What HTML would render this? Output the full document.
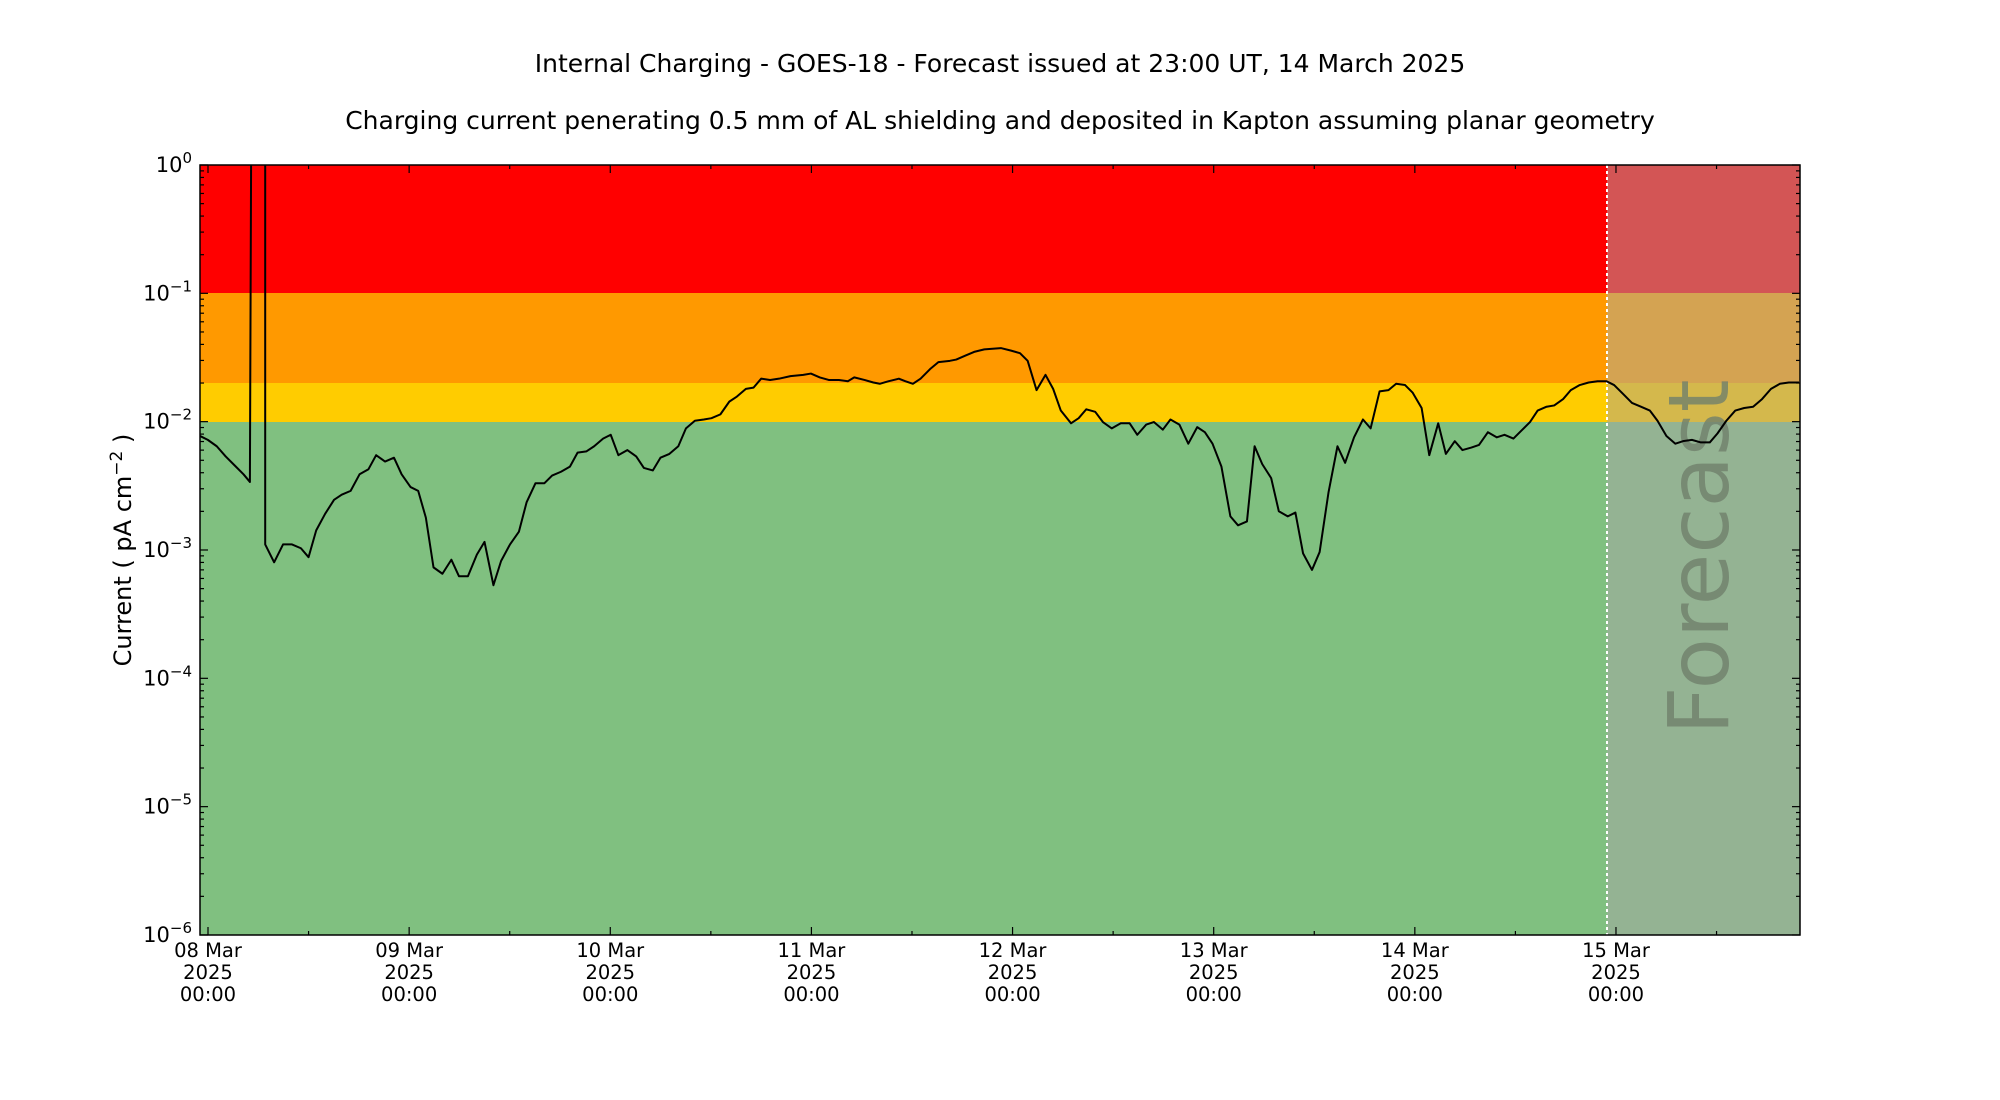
<!DOCTYPE html>
<html><head><meta charset="utf-8"><style>
html,body{margin:0;padding:0;background:#fff}
svg{display:block;font-family:"DejaVu Sans","Liberation Sans",sans-serif}
</style></head><body>
<svg id="s" width="2000" height="1100" viewBox="0 0 2000 1100" xmlns="http://www.w3.org/2000/svg">
<defs><clipPath id="cp"><rect x="200" y="165" width="1600" height="770"/></clipPath></defs>
<text x="1000" y="72" font-size="25" text-anchor="middle">Internal Charging - GOES-18 - Forecast issued at 23:00 UT, 14 March 2025</text>
<text x="1000" y="129" font-size="25" text-anchor="middle">Charging current penerating 0.5 mm of AL shielding and deposited in Kapton assuming planar geometry</text>
<rect x="200" y="165" width="1600" height="128" fill="#ff0000"/>
<rect x="200" y="293" width="1600" height="90" fill="#ff9900"/>
<rect x="200" y="383" width="1600" height="39" fill="#ffcc00"/>
<rect x="200" y="422" width="1600" height="513" fill="#80c080"/>
<rect x="1607" y="165" width="193" height="128" fill="#d35555"/>
<rect x="1607" y="293" width="193" height="90" fill="#d4a352"/>
<rect x="1607" y="383" width="193" height="39" fill="#d4b84c"/>
<rect x="1607" y="422" width="193" height="513" fill="#94b393"/>
<line x1="1607" y1="165" x2="1607" y2="935" stroke="#fff" stroke-width="2" stroke-dasharray="3,3"/>
<text transform="translate(1728,557) rotate(-90)" font-size="84" fill="#6f806c" fill-opacity="0.8" text-anchor="middle">Forecast</text>
<g clip-path="url(#cp)"><g transform="scale(1.275)">
<polyline fill="none" stroke="#000" stroke-width="2" vector-effect="non-scaling-stroke" stroke-linejoin="round" points="157,342 163,345 170,350 177,358 184,365 191,372 196,378 197,110 208,110 208,427 215,441 222,427 229,427 236,430 242,437 248,416 255,403 262,392 268,388 275,385 282,372 289,368 295,357 302,362 309,359 315,372 322,382 328,385 334,406 340,445 347,450 354,439 360,452 367,452 374,435 380,425 387,459 393,440 400,427 407,417 413,394 420,379 427,379 433,373 440,370 447,366 453,355 460,354 466,350 473,344 479,341 485,357 492,353 499,358 505,367 512,369 518,359 525,356 532,350 538,336 545,330 552,329 558,328 565,325 572,315 578,311 585,305 591,304 597,297 604,298 611,297 620,295 630,294 636,293 643,296 650,298 658,298 665,299 670,296 678,298 685,300 690,301 697,299 705,297 710,299 716,301 722,297 730,289 736,284 745,283 750,282 757,279 764,276 772,274 785,273 793,275 800,277 806,283 813,306 820,294 826,305 832,322 840,332 846,328 852,321 859,323 865,331 872,336 879,332 886,332 892,341 899,333 905,331 912,337 918,329 925,333 932,348 939,335 945,339 951,348 958,366 965,405 971,412 978,409 984,350 990,364 997,375 1003,401 1010,405 1016,402 1022,434 1029,447 1035,433 1042,386 1049,350 1055,363 1062,343 1069,329 1075,336 1082,307 1089,306 1095,301 1102,302 1108,308 1115,320 1121,357 1128,332 1134,356 1141,346 1147,353 1154,351 1160,349 1167,339 1174,343 1180,341 1187,344 1193,338 1200,331 1206,322 1213,319 1219,318 1226,313 1232,306 1239,302 1246,300 1253,299 1260,299 1266,302 1273,309 1280,316 1287,319 1294,322 1300,330 1307,342 1314,348 1320,346 1327,345 1334,347 1341,347 1347,340 1354,330 1361,322 1368,320 1375,319 1382,313 1389,305 1396,301 1403,300 1411,300"/>
</g></g>
<rect x="200" y="165" width="1600" height="770" fill="none" stroke="#000" stroke-width="1.5"/>
<g id="ticks" stroke="#000" stroke-width="1.2"></g>
<g id="labels" font-size="19.5" fill="#000"></g>
<text transform="translate(131,550) rotate(-90)" font-size="24" text-anchor="middle">Current ( pA cm<tspan dy="-9" font-size="17">−2</tspan><tspan dy="9"> )</tspan></text>
</svg>
<script>
var NS="http://www.w3.org/2000/svg",tk=document.getElementById('ticks'),LB=document.getElementById('labels');
function ln(x1,y1,x2,y2){var e=document.createElementNS(NS,'line');e.setAttribute('x1',x1);e.setAttribute('y1',y1);e.setAttribute('x2',x2);e.setAttribute('y2',y2);tk.appendChild(e);}
function tx(x,y,s,a,sup,fs){var e=document.createElementNS(NS,'text');e.setAttribute('x',x);e.setAttribute('y',y);e.setAttribute('text-anchor',a);if(fs)e.setAttribute('font-size',fs);e.textContent=s;if(sup){var p=document.createElementNS(NS,'tspan');p.setAttribute('dy','-9');p.setAttribute('font-size','15');p.textContent=sup;e.appendChild(p);}LB.appendChild(e);}
var T0=165,DEC=128.33;
for(var d=0;d<=6;d++){var y=T0+d*DEC;ln(200,y,208,y);ln(1800,y,1792,y);
 tx(192,y+7,'10','end',d==0?'0':'−'+d,'21');
 if(d<6)for(var k=2;k<=9;k++){var yy=T0+d*DEC+(1-Math.log10(k))*DEC;ln(200,yy,204,yy);ln(1800,yy,1796,yy);}}
var days=['08','09','10','11','12','13','14','15'];
for(var i=0;i<8;i++){var x=208+i*201.14;ln(x,935,x,927);ln(x,165,x,173);
 tx(x,957,days[i]+' Mar','middle');tx(x,979,'2025','middle');tx(x,1001,'00:00','middle');
 var xm=x+100.57;if(xm<1800){ln(xm,935,xm,931);ln(xm,165,xm,169);}}
</script>
</body></html>
